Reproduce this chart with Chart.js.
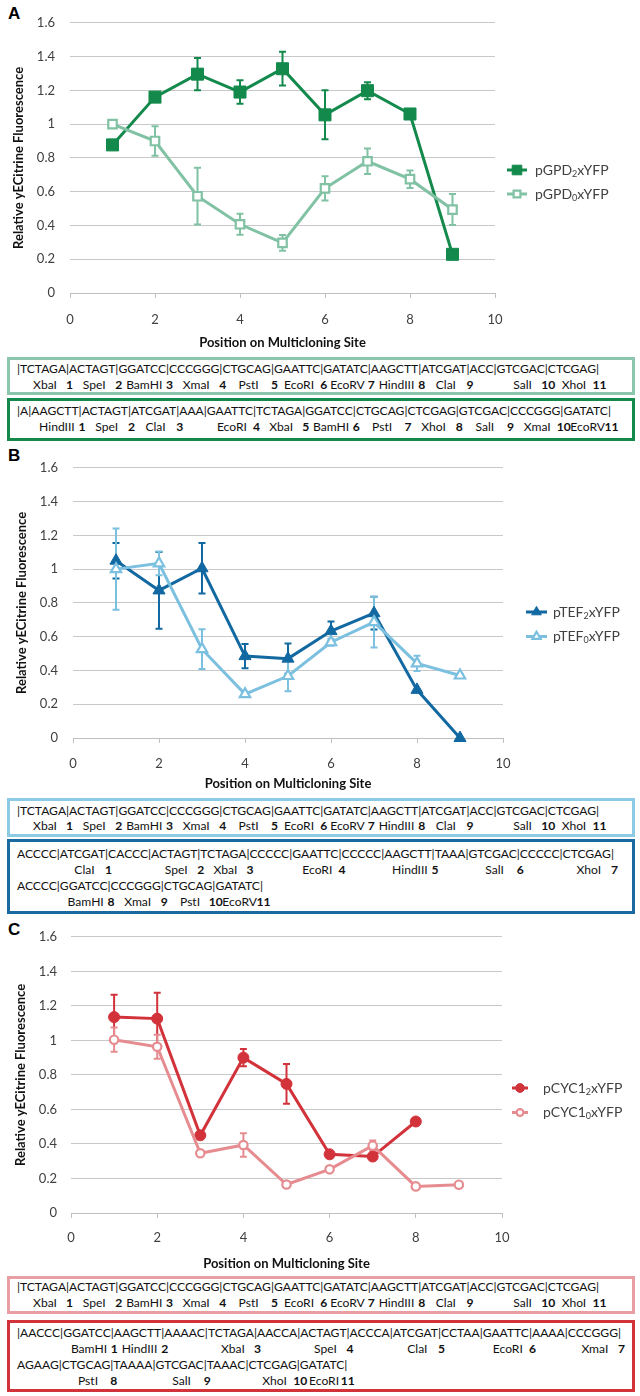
<!DOCTYPE html>
<html>
<head>
<meta charset="utf-8">
<script src="https://cdn.jsdelivr.net/npm/chart.js"></script>
<style>
  body { margin: 0; background: #fff; }
  #page { position: relative; width: 640px; height: 1396px; overflow: hidden; font-family: Lato, sans-serif; }
  canvas { position: absolute; left: 0; }
  .tag { position: absolute; left: 8px; font: bold 17px/17px "Liberation Sans", Arial, sans-serif; color: #000; }
  .box { position: absolute; left: 7px; width: 628px; box-sizing: border-box; border: 3px solid; padding-left: 7px; font-size: 12.1px; color: #111; }
  .seq, .lab { position: relative; white-space: pre; }
  .lab span { position: absolute; top: 0; transform: translateX(-50%); }
  .lab span.n { font-weight: bold; }
</style>
</head>
<body>
<div id="page">
  <div class="tag" style="top:5px">A</div>
  <canvas id="chartA" width="640" height="351" style="top:0px"></canvas>
  <div class="box" id="boxA0" style="top:357px;height:38px;border-color:#8cc7ad;padding-top:1px;line-height:15.5px"></div>
  <div class="box" id="boxA2" style="top:398px;height:43px;border-color:#138a4c;padding-top:2px;line-height:16px"></div>

  <div class="tag" style="top:447px">B</div>
  <canvas id="chartB" width="640" height="347" style="top:445px"></canvas>
  <div class="box" id="boxB0" style="top:798px;height:39px;border-color:#8ccae6;padding-top:2px;line-height:15px"></div>
  <div class="box" id="boxB2" style="top:839px;height:75px;border-color:#1a6aa0;padding-top:4px;line-height:16px"></div>

  <div class="tag" style="top:921px">C</div>
  <canvas id="chartC" width="640" height="357" style="top:915px"></canvas>
  <div class="box" id="boxC0" style="top:1276px;height:38px;border-color:#e89ea2;padding-top:0px;line-height:15.5px"></div>
  <div class="box" id="boxC2" style="top:1320px;height:72px;border-color:#d2323a;padding-top:2px;line-height:16px"></div>
</div>

<script>
// positions on the multicloning site
const positions = [1, 2, 3, 4, 5, 6, 7, 8, 9];

// panel A
const gpd2 = [0.877, 1.16, 1.296, 1.19, 1.328, 1.055, 1.198, 1.06, 0.229];
const gpd2Err = [0, 0.02, 0.095, 0.07, 0.10, 0.145, 0.05, 0.01, 0];
const gpd0 = [1.0, 0.90, 0.573, 0.407, 0.297, 0.62, 0.78, 0.674, 0.494];
const gpd0Err = [0, 0.087, 0.168, 0.062, 0.047, 0.072, 0.075, 0.052, 0.092];

// panel B
const tef2 = [1.05, 0.874, 1.005, 0.485, 0.47, 0.633, 0.739, 0.285, 0.0];
const tef2Err = [0.105, 0.227, 0.15, 0.072, 0.09, 0.057, 0.097, 0, 0];
const tef0 = [1.0, 1.034, 0.526, 0.26, 0.367, 0.567, 0.686, 0.442, 0.37];
const tef0Err = [0.24, 0.07, 0.118, 0.01, 0.09, 0.02, 0.15, 0.045, 0.01];

// panel C
const cyc2 = [1.135, 1.126, 0.45, 0.90, 0.748, 0.34, 0.327, 0.53];
const cyc2Err = [0.13, 0.15, 0, 0.05, 0.115, 0, 0, 0];
const cyc0 = [1.004, 0.963, 0.346, 0.394, 0.165, 0.253, 0.39, 0.154, 0.164];
const cyc0Err = [0.07, 0.07, 0, 0.068, 0, 0, 0.03, 0, 0];

// axis ticks
const yMax = 1.6, yStep = 0.2;
const xMax = 10, xStep = 2;

// multicloning site sequences and site labels
const mcsStd = ['|TCTAGA|ACTAGT|GGATCC|CCCGGG|CTGCAG|GAATTC|GATATC|AAGCTT|ATCGAT|ACC|GTCGAC|CTCGAG|'];
const sitesStd = [['XbaI 1', 'SpeI 2', 'BamHI 3', 'XmaI 4', 'PstI 5', 'EcoRI 6', 'EcoRV 7', 'HindIII 8', 'ClaI 9', '', 'SalI 10', 'XhoI 11']];
const mcsGpd2 = ['|A|AAGCTT|ACTAGT|ATCGAT|AAA|GAATTC|TCTAGA|GGATCC|CTGCAG|CTCGAG|GTCGAC|CCCGGG|GATATC|'];
const sitesGpd2 = [['', 'HindIII 1', 'SpeI 2', 'ClaI 3', '', 'EcoRI 4', 'XbaI 5', 'BamHI 6', 'PstI 7', 'XhoI 8', 'SalI 9', 'XmaI 10', 'EcoRV 11']];
const mcsTef2 = ['ACCCC|ATCGAT|CACCC|ACTAGT|TCTAGA|CCCCC|GAATTC|CCCCC|AAGCTT|TAAA|GTCGAC|CCCCC|CTCGAG|',
                 'ACCCC|GGATCC|CCCGGG|CTGCAG|GATATC|'];
const sitesTef2 = [['', 'ClaI 1', '', 'SpeI 2', 'XbaI 3', '', 'EcoRI 4', '', 'HindIII 5', '', 'SalI 6', '', 'XhoI 7'],
                   ['', 'BamHI 8', 'XmaI 9', 'PstI 10', 'EcoRV 11']];
const mcsCyc2 = ['|AACCC|GGATCC|AAGCTT|AAAAC|TCTAGA|AACCA|ACTAGT|ACCCA|ATCGAT|CCTAA|GAATTC|AAAA|CCCGGG|',
                 'AGAAG|CTGCAG|TAAAA|GTCGAC|TAAAC|CTCGAG|GATATC|'];
const sitesCyc2 = [['', 'BamHI 1', 'HindIII 2', '', 'XbaI 3', '', 'SpeI 4', '', 'ClaI 5', '', 'EcoRI 6', '', 'XmaI 7'],
                   ['', 'PstI 8', '', 'SalI 9', '', 'XhoI 10', 'EcoRI 11']];

const FONT = 'Lato';

// error bars, drawn under the lines and markers
const errorBars = {
  id: 'errorBars',
  beforeDatasetsDraw(chart) {
    const ctx = chart.ctx;
    const yScale = chart.scales.y;
    chart.data.datasets.forEach((ds, i) => {
      const meta = chart.getDatasetMeta(i);
      ctx.save();
      ctx.strokeStyle = ds.borderColor;
      ctx.lineWidth = 2;
      meta.data.forEach((pt, j) => {
        const e = ds.errors[j];
        if (!e) return;
        const v = ds.data[j].y;
        const top = yScale.getPixelForValue(v + e);
        const bot = yScale.getPixelForValue(v - e);
        ctx.beginPath();
        ctx.moveTo(pt.x, top); ctx.lineTo(pt.x, bot);
        ctx.moveTo(pt.x - 3.5, top); ctx.lineTo(pt.x + 3.5, top);
        ctx.moveTo(pt.x - 3.5, bot); ctx.lineTo(pt.x + 3.5, bot);
        ctx.stroke();
      });
      ctx.restore();
    });
  }
};

// excel style legend: short line with marker, label with subscript
const lineLegend = {
  id: 'lineLegend',
  afterDraw(chart, args, opts) {
    const ctx = chart.ctx;
    chart.data.datasets.forEach((ds, i) => {
      const y = opts.y + i * opts.gap;
      ctx.save();
      ctx.strokeStyle = ds.borderColor;
      ctx.lineWidth = 3;
      ctx.beginPath();
      ctx.moveTo(opts.x, y); ctx.lineTo(opts.x + opts.len, y);
      ctx.stroke();
      ctx.fillStyle = ds.pointBackgroundColor;
      ctx.strokeStyle = ds.pointBorderColor;
      ctx.lineWidth = ds.pointBorderWidth;
      Chart.helpers.drawPoint(ctx, {
        pointStyle: ds.pointStyle, rotation: 0,
        radius: ds.pointRadius * 0.8, borderWidth: ds.pointBorderWidth
      }, opts.x + opts.len / 2, y);
      ctx.fillStyle = '#404040';
      ctx.textBaseline = 'middle';
      ctx.textAlign = 'left';
      const [a, sub, b] = ds.legendParts;
      let tx = opts.textX;
      ctx.font = '14px ' + FONT;
      ctx.fillText(a, tx, y); tx += ctx.measureText(a).width;
      ctx.font = '9px ' + FONT;
      ctx.fillText(sub, tx, y + 4); tx += ctx.measureText(sub).width;
      ctx.font = '14px ' + FONT;
      ctx.fillText(b, tx, y);
      ctx.restore();
    });
  }
};

function series(parts, vals, errs, color, style, radius, open, order) {
  return {
    label: parts.join(''),
    legendParts: parts,
    data: vals.map((v, i) => ({ x: positions[i], y: v })),
    errors: errs,
    borderColor: color,
    borderWidth: 3,
    pointStyle: style,
    pointRadius: radius,
    pointBorderColor: color,
    pointBackgroundColor: open ? '#ffffff' : color,
    pointBorderWidth: open ? 2.2 : 1,
    tension: 0,
    fill: false,
    clip: false,
    order: order
  };
}

function drawPanel(id, datasets, lay) {
  const tickFont = { family: FONT, size: 13 };
  const titleFont = { family: FONT, size: 13, weight: 'bold' };
  new Chart(document.getElementById(id), {
    type: 'line',
    data: { datasets },
    options: {
      responsive: false,
      animation: false,
      events: [],
      devicePixelRatio: 1,
      layout: { autoPadding: false, padding: { top: lay.padTop, right: lay.right, bottom: 0, left: 0 } },
      plugins: {
        legend: { display: false },
        tooltip: { enabled: false },
        lineLegend: lay.legend
      },
      scales: {
        x: {
          type: 'linear', min: 0, max: xMax,
          ticks: { stepSize: xStep, padding: lay.xTickPad, font: tickFont, color: '#404040', maxRotation: 0, callback: v => String(v) },
          grid: { drawOnChartArea: false, drawTicks: true, tickLength: 5, color: '#bfbfbf' },
          border: { display: true, color: '#bfbfbf' },
          title: { display: true, text: 'Position on Multicloning Site', font: titleFont, color: '#111', padding: 0 },
          afterFit: s => { s.height = lay.xH; }
        },
        y: {
          min: 0, max: yMax,
          ticks: { stepSize: yStep, padding: lay.yTickPad, font: tickFont, color: '#404040', callback: v => String(Math.round(v * 10) / 10) },
          grid: { drawTicks: false, color: '#c8c8c8' },
          border: { display: false },
          title: { display: true, text: 'Relative yECitrine Fluorescence', font: titleFont, color: '#111', padding: { top: lay.yTitlePad, bottom: 0 } },
          afterFit: s => { s.width = lay.left; }
        }
      }
    },
    plugins: [errorBars, lineLegend]
  });
}

// sequence boxes: enzyme names under their site, numbers under the bar that follows
function buildBox(id, rows, sites) {
  const box = document.getElementById(id);
  const jobs = [];
  rows.forEach((seq, r) => {
    const line = document.createElement('div');
    line.className = 'seq';
    const segs = [];
    let lastSeg = null;
    seq.split('|').forEach((part, i) => {
      if (i > 0) {
        const bar = document.createElement('span');
        bar.textContent = '|';
        line.appendChild(bar);
        if (lastSeg) { lastSeg.bar = bar; lastSeg = null; }
      }
      if (part) {
        const s = document.createElement('span');
        s.textContent = part;
        line.appendChild(s);
        lastSeg = { span: s, bar: null };
        segs.push(lastSeg);
      }
    });
    const lab = document.createElement('div');
    lab.className = 'lab';
    lab.innerHTML = '&nbsp;';
    box.appendChild(line);
    box.appendChild(lab);
    jobs.push({ lab, segs, sites: sites[r] });
  });
  return jobs;
}

function placeLabels(jobs) {
  jobs.forEach(({ lab, segs, sites }) => {
    const base = lab.getBoundingClientRect().left;
    segs.forEach((sg, k) => {
      const site = sites[k];
      if (!site) return;
      const [name, num] = site.split(' ');
      const r = sg.span.getBoundingClientRect();
      const e = document.createElement('span');
      e.textContent = name;
      e.style.left = ((r.left + r.right) / 2 - base + 2) + 'px';
      lab.appendChild(e);
      if (sg.bar) {
        const b = sg.bar.getBoundingClientRect();
        const n = document.createElement('span');
        n.className = 'n';
        n.textContent = num;
        n.style.left = ((b.left + b.right) / 2 - base + 2) + 'px';
        lab.appendChild(n);
      }
    });
  });
}

const jobs = [
  ...buildBox('boxA0', mcsStd, sitesStd),
  ...buildBox('boxA2', mcsGpd2, sitesGpd2),
  ...buildBox('boxB0', mcsStd, sitesStd),
  ...buildBox('boxB2', mcsTef2, sitesTef2),
  ...buildBox('boxC0', mcsStd, sitesStd),
  ...buildBox('boxC2', mcsCyc2, sitesCyc2)
];

drawPanel('chartA', [
  series(['pGPD', '2', 'xYFP'], gpd2, gpd2Err, '#138a4c', 'rect', 8.5, false, 1),
  series(['pGPD', '0', 'xYFP'], gpd0, gpd0Err, '#80c2a3', 'rect', 6, true, 0)
], { padTop: 9, right: 145, left: 70, xH: 58, xTickPad: 14, yTickPad: 15, yTitlePad: 11,
     legend: { x: 507, y: 170, gap: 24, len: 20, textX: 535 } });

drawPanel('chartB', [
  series(['pTEF', '2', 'xYFP'], tef2, tef2Err, '#1268a0', 'triangle', 7, false, 1),
  series(['pTEF', '0', 'xYFP'], tef0, tef0Err, '#7cc0e0', 'triangle', 6, true, 0)
], { padTop: 10, right: 137, left: 73, xH: 54, xTickPad: 13, yTickPad: 15, yTitlePad: 14.5,
     legend: { x: 526, y: 167, gap: 24.5, len: 21, textX: 553 } });

drawPanel('chartC', [
  series(['pCYC1', '2', 'xYFP'], cyc2, cyc2Err, '#d2323a', 'circle', 5.5, false, 1),
  series(['pCYC1', '0', 'xYFP'], cyc0, cyc0Err, '#e68c91', 'circle', 4.2, true, 0)
], { padTop: 12, right: 138, left: 71, xH: 59, xTickPad: 12, yTickPad: 14, yTitlePad: 13,
     legend: { x: 512, y: 173, gap: 24.5, len: 16, textX: 543 } });

document.fonts.ready.then(() => placeLabels(jobs));
</script>
</body>
</html>
